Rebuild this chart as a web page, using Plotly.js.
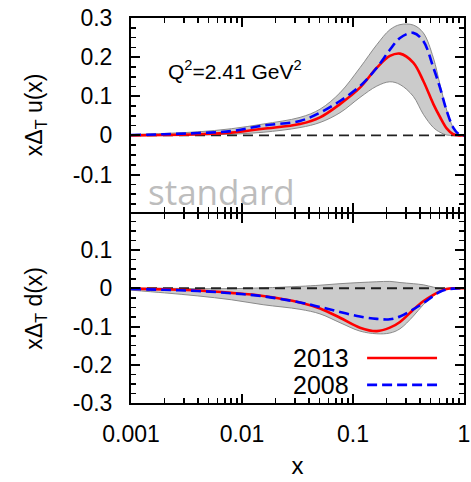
<!DOCTYPE html>
<html>
<head>
<meta charset="utf-8">
<script src="https://cdn.plot.ly/plotly-3.0.1.min.js"></script>
<style>html,body{margin:0;padding:0;background:#fff;}#chart{width:471px;height:482px;}</style>
</head>
<body>
<div id="chart"></div>
<script>
// shared x grid
const xGrid = [0.001, 0.002, 0.004, 0.008, 0.0155, 0.0333, 0.0505, 0.0764, 0.1156, 0.164, 0.215, 0.265, 0.349, 0.43, 0.53, 0.608, 0.698, 0.80, 0.9, 1.0];

// upper panel: x*DeltaT u(x)
const u2013 = [0.000, 0.001, 0.003, 0.007, 0.017, 0.029, 0.046, 0.080, 0.122, 0.173, 0.203, 0.209, 0.186, 0.139, 0.080, 0.047, 0.018, 0.003, 0.000, 0.000];
const u2008 = [0.001, 0.003, 0.006, 0.011, 0.025, 0.037, 0.058, 0.088, 0.126, 0.173, 0.219, 0.249, 0.262, 0.241, 0.173, 0.122, 0.063, 0.020, 0.003, 0.000];
const uBandTop = [0.002, 0.005, 0.009, 0.017, 0.029, 0.046, 0.067, 0.109, 0.173, 0.232, 0.270, 0.283, 0.282, 0.262, 0.198, 0.130, 0.065, 0.020, 0.003, 0.000];
const uBandBot = [-0.001, 0.000, 0.001, 0.003, 0.008, 0.020, 0.033, 0.058, 0.097, 0.126, 0.137, 0.130, 0.100, 0.054, 0.020, 0.008, 0.001, 0.000, 0.000, 0.000];

// lower panel: x*DeltaT d(x)
const d2013 = [-0.001, -0.003, -0.006, -0.012, -0.020, -0.037, -0.053, -0.077, -0.103, -0.112, -0.103, -0.088, -0.056, -0.034, -0.017, -0.008, -0.002, 0.000, 0.000, 0.000];
const d2008 = [-0.002, -0.004, -0.007, -0.013, -0.021, -0.037, -0.049, -0.062, -0.074, -0.080, -0.081, -0.074, -0.055, -0.039, -0.020, -0.009, -0.003, -0.001, 0.000, 0.000];
const dBandTop = [0.000, 0.000, -0.001, -0.001, 0.001, 0.005, 0.008, 0.012, 0.015, 0.017, 0.018, 0.015, 0.012, 0.009, 0.003, 0.000, 0.000, 0.000, 0.000, 0.000];
const dBandBot = [-0.005, -0.012, -0.020, -0.030, -0.043, -0.055, -0.067, -0.090, -0.112, -0.119, -0.117, -0.106, -0.073, -0.043, -0.020, -0.009, -0.003, -0.001, 0.000, 0.000];

const zeroX = [0.001, 1];
const zeroY = [0, 0];

const uTickVals = [0.3, 0.2, 0.1, 0, -0.1];
const uTickText = ['0.3', '0.2', '0.1', '0', '-0.1'];
const dTickVals = [0.1, 0, -0.1, -0.2, -0.3];
const dTickText = ['0.1', '0', '-0.1', '-0.2', '-0.3'];

const seriesNames = ['2013', '2008'];
const annoQ = 'Q<sup>2</sup>=2.41 GeV<sup>2</sup>';
const annoStd = 'standard';

const RED = '#ff0000', BLUE = '#0000ff';
function band(top, bot, xa, ya) {
  return {
    x: xGrid.concat(xGrid.slice().reverse()),
    y: top.concat(bot.slice().reverse()),
    xaxis: xa, yaxis: ya, type: 'scatter', mode: 'lines', fill: 'toself',
    fillcolor: '#cbcbcb', line: {color: '#8a8a8a', width: 1, shape: 'spline'},
    hoverinfo: 'skip', showlegend: false
  };
}
function zero(xa, ya) {
  return {x: zeroX, y: zeroY, xaxis: xa, yaxis: ya, mode: 'lines',
    line: {color: '#222', width: 1.8, dash: '10px,6px'}, showlegend: false};
}
function curve(y, name, color, dash, xa, ya) {
  return {x: xGrid, y: y, name: name, xaxis: xa, yaxis: ya, mode: 'lines',
    line: {color: color, width: 2.6, dash: dash, shape: 'spline', smoothing: 1}, showlegend: false};
}

const data = [
  band(uBandTop, uBandBot, 'x2', 'y2'),
  zero('x2', 'y2'),
  curve(u2013, seriesNames[0], RED, 'solid', 'x2', 'y2'),
  curve(u2008, seriesNames[1], BLUE, '10px,5px', 'x2', 'y2'),
  band(dBandTop, dBandBot, 'x', 'y'),
  zero('x', 'y'),
  curve(d2013, seriesNames[0], RED, 'solid', 'x', 'y'),
  curve(d2008, seriesNames[1], BLUE, '10px,5px', 'x', 'y')
];

const FONT = 'Liberation Sans, Arial, sans-serif';
function xAxisBase() {
  return {
    type: 'log', range: [-3, 0.0001], showline: true, linecolor: '#000', linewidth: 2,
    mirror: 'ticks', ticks: 'inside', ticklen: 9, tickwidth: 2, tickcolor: '#000',
    tickmode: 'linear', tick0: 0, dtick: 1, tickformat: '~g', showgrid: false, zeroline: false,
    minor: {dtick: 'D1', ticks: 'inside', ticklen: 5, tickwidth: 1.6, tickcolor: '#000', showgrid: false},
    tickfont: {family: FONT, size: 23, color: '#000'}, ticklabelstandoff: 9
  };
}
function yAxisBase() {
  return {
    showline: true, linecolor: '#000', linewidth: 2, mirror: 'ticks',
    ticks: 'inside', ticklen: 9, tickwidth: 2, tickcolor: '#000',
    showgrid: false, zeroline: false, tickmode: 'array',
    minor: {tickmode: 'linear', ticks: 'inside', ticklen: 5, tickwidth: 1.6, tickcolor: '#000', dtick: 0.025, tick0: 0, showgrid: false},
    tickfont: {family: FONT, size: 23, color: '#000'}, ticklabelstandoff: 12
  };
}

const layout = {
  width: 471, height: 482,
  margin: {l: 131, r: 7, t: 18, b: 79},
  paper_bgcolor: '#fff', plot_bgcolor: '#fff',
  showlegend: false,
  xaxis: Object.assign(xAxisBase(), {anchor: 'y', title: {text: 'x', font: {family: FONT, size: 24, color: '#000'}, standoff: 12}}),
  xaxis2: Object.assign(xAxisBase(), {anchor: 'y2', matches: 'x', showticklabels: false}),
  yaxis: Object.assign(yAxisBase(), {domain: [0, 0.4917], range: [-0.3, 0.195], tickvals: dTickVals, ticktext: dTickText,
    title: {text: 'xΔ<sub>T</sub> d(x)', font: {family: FONT, size: 23, color: '#000'}, standoff: 24}}),
  yaxis2: Object.assign(yAxisBase(), {domain: [0.4969, 1], range: [-0.195, 0.3], tickvals: uTickVals, ticktext: uTickText,
    title: {text: 'xΔ<sub>T</sub> u(x)', font: {family: FONT, size: 23, color: '#000'}, standoff: 24}}),
  annotations: [
    {xref: 'paper', yref: 'paper', x: 0.105, y: 0.865, xanchor: 'left', yanchor: 'middle', showarrow: false,
     text: annoQ, font: {family: FONT, size: 21, color: '#000'}},
    {xref: 'paper', yref: 'paper', x: 0.045, y: 0.55, xanchor: 'left', yanchor: 'middle', showarrow: false,
     text: annoStd, font: {family: 'Open Sans, sans-serif', size: 35, color: '#bdbdbd'}},
    {xref: 'paper', yref: 'paper', x: 0.66, y: 0.117, xanchor: 'right', yanchor: 'middle', showarrow: false,
     text: seriesNames[0], font: {family: FONT, size: 25, color: '#000'}},
    {xref: 'paper', yref: 'paper', x: 0.66, y: 0.047, xanchor: 'right', yanchor: 'middle', showarrow: false,
     text: seriesNames[1], font: {family: FONT, size: 25, color: '#000'}}
  ],
  shapes: [
    {type: 'line', xref: 'paper', yref: 'paper', x0: 0.709, x1: 0.919, y0: 0.117, y1: 0.117, line: {color: RED, width: 2.6}},
    {type: 'line', xref: 'paper', yref: 'paper', x0: 0.709, x1: 0.919, y0: 0.047, y1: 0.047, line: {color: BLUE, width: 2.6, dash: '10px,5px'}}
  ]
};

Plotly.newPlot('chart', data, layout, {staticPlot: true, displayModeBar: false});
</script>
</body>
</html>
